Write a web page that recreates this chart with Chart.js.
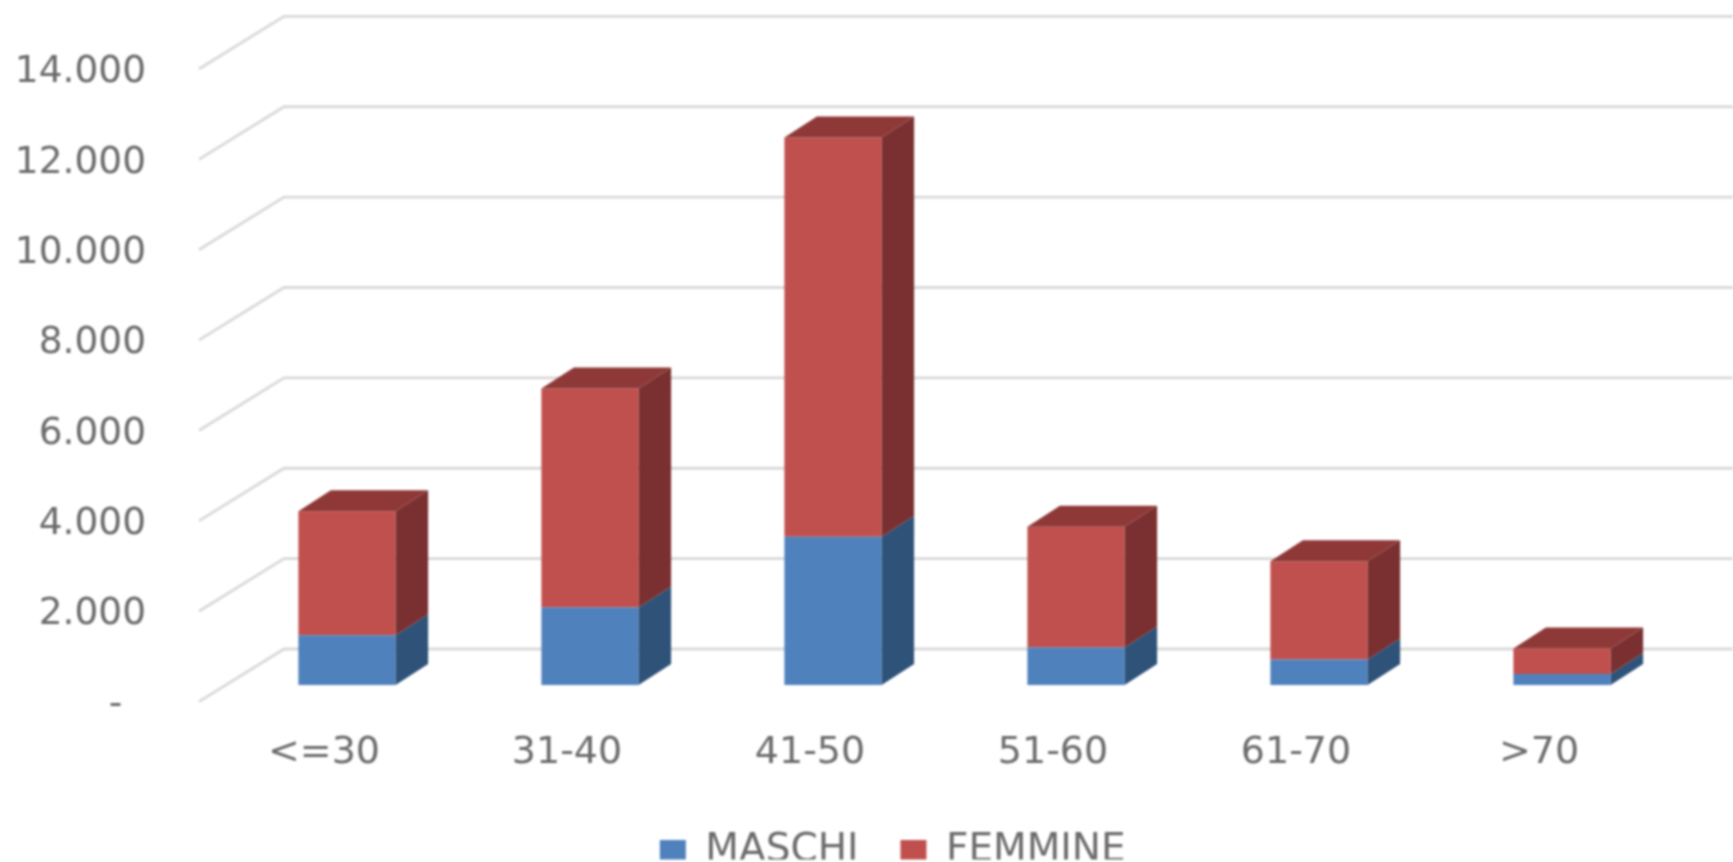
<!DOCTYPE html>
<html>
<head>
<meta charset="utf-8">
<style>
html,body{margin:0;padding:0;background:#fff;overflow:hidden}
canvas{display:block;filter:blur(0.9px)}
</style>
<script src="https://cdn.jsdelivr.net/npm/chart.js@4"></script>
</head>
<body>
<canvas id="c" width="1733" height="862"></canvas>
<script>
const categories = ['<=30','31-40','41-50','51-60','61-70','>70'];
const maschi  = [1100,1714,3280,832,563,245];
const femmine = [2743,4846,8838,2668,2178,563];
const yTickLabels = ['-  ','2.000','4.000','6.000','8.000','10.000','12.000','14.000'];

const COL = {
  blue:'#4F81BD', red:'#C0504D',
  blueSide:'#2F5279', redSide:'#7A3030', redTop:'#8E3937',
  grid:'#D9D9D9', text:'#6B6B6B'
};
const FONT = '"DejaVu Sans"';

const wall3d = {
  id:'wall3d',
  beforeDatasetsDraw(chart){
    const {ctx,scales:{y},chartArea:a} = chart;
    ctx.save();
    ctx.strokeStyle = COL.grid; ctx.lineWidth = 2.8;
    y.ticks.forEach(t=>{
      const py = y.getPixelForValue(t.value);
      ctx.beginPath();
      ctx.moveTo(a.left-26.5, py+16.6);
      ctx.lineTo(a.left+58.5, py-36);
      ctx.lineTo(chart.width, py-36);
      ctx.stroke();
    });
    ctx.restore();
  },
  afterDatasetsDraw(chart){
    const {ctx} = chart;
    const dx = 32.5, dy = 21;
    const poly = (pts,c)=>{
      ctx.fillStyle=c; ctx.beginPath();
      pts.forEach((p,i)=> i?ctx.lineTo(p[0],p[1]):ctx.moveTo(p[0],p[1]));
      ctx.closePath(); ctx.fill();
    };
    ctx.save();
    const sides=[COL.blueSide,COL.redSide];
    chart.data.datasets.forEach((ds,i)=>{
      chart.getDatasetMeta(i).data.forEach(b=>{
        const r=b.x+b.width/2;
        poly([[r,b.base],[r+dx,b.base-dy],[r+dx,b.y-dy],[r,b.y]],sides[i]);
      });
    });
    chart.getDatasetMeta(chart.data.datasets.length-1).data.forEach(b=>{
      const l=b.x-b.width/2, r=b.x+b.width/2;
      poly([[l,b.y],[l+dx,b.y-dy],[r+dx,b.y-dy],[r,b.y]],COL.redTop);
    });
    ctx.restore();
  },
  afterLayout(chart){
    const L=chart.legend;
    if(L){
      L.left += 51; L.right += 51;
      const h=L.bottom-L.top; L.top = 789.5; L.bottom = L.top+h;
    }
  }
};

new Chart(document.getElementById('c'),{
  type:'bar',
  data:{
    labels:categories,
    datasets:[
      {label:'MASCHI', data:maschi, backgroundColor:COL.blue},
      {label:'FEMMINE',data:femmine,backgroundColor:COL.red}
    ]
  },
  plugins:[wall3d],
  options:{
    responsive:false,
    animation:false,
    layout:{padding:{top:52.4,right:49.5,left:0,bottom:0}},
    datasets:{bar:{barPercentage:0.4,categoryPercentage:1}},
    plugins:{
      tooltip:{enabled:false},
      legend:{
        position:'bottom',
        maxHeight:70,
        labels:{
          boxWidth:26,boxHeight:22,padding:42,
          color:COL.text,font:{family:FONT,size:39}
        }
      }
    },
    scales:{
      x:{
        stacked:true,
        grid:{display:false,drawTicks:false},
        border:{display:false},
        ticks:{color:COL.text,font:{family:FONT,size:38},labelOffset:-23,padding:45,maxRotation:0,autoSkip:false},
        afterFit(s){ s.height=107; s.paddingLeft=0; s.paddingRight=0; }
      },
      y:{
        stacked:true,min:0,max:14000,
        grid:{display:false,drawTicks:false},
        border:{display:false},
        afterBuildTicks(s){ s.ticks=yTickLabels.map((_,i)=>({value:i*2000})); },
        ticks:{color:COL.text,font:{family:FONT,size:37.5},padding:79.5,labelOffset:20,
          callback:(v,i)=>yTickLabels[i]},
        afterFit(s){ s.width=225.5; s.paddingTop=0; s.paddingBottom=0; }
      }
    }
  }
});
</script>
</body>
</html>
